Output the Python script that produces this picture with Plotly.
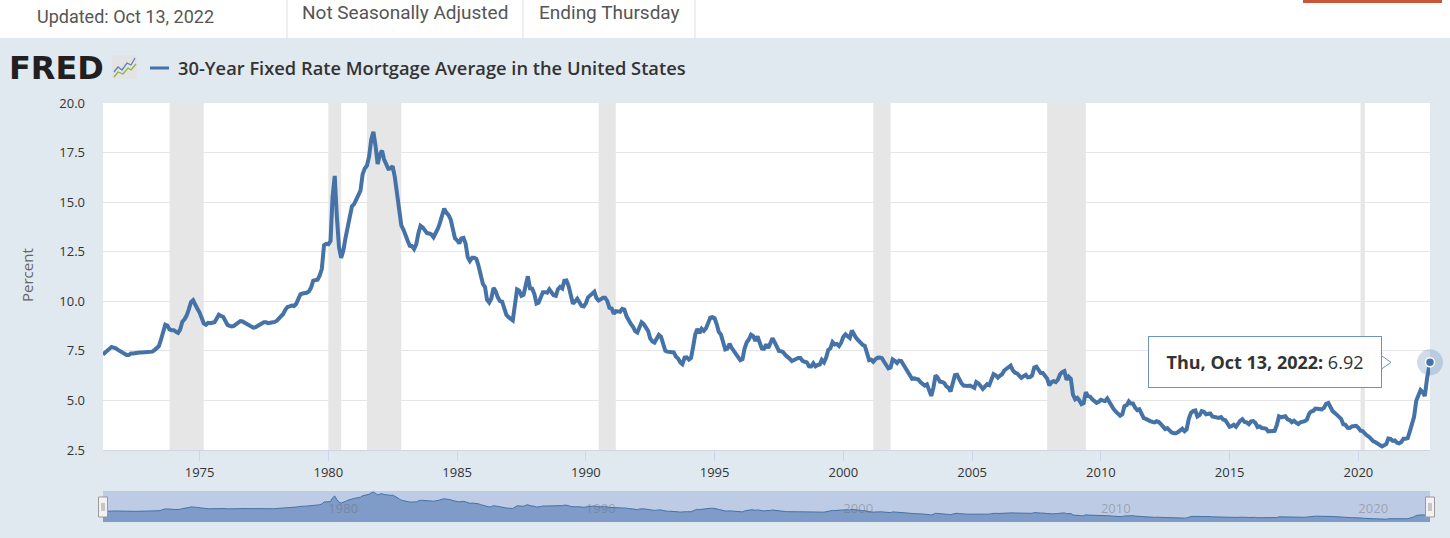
import pandas as pd
import plotly.graph_objects as go

# 30-year fixed mortgage rate, monthly readings (percent), Apr 1971 .. Oct 2022
rates_1970s = [
    7.31, 7.43, 7.53, 7.60, 7.70, 7.69, 7.63, 7.55, 7.48,
    7.44, 7.32, 7.29, 7.29, 7.37, 7.37, 7.40, 7.40, 7.42, 7.42, 7.43, 7.44,
    7.44, 7.44, 7.46, 7.54, 7.65, 7.73, 8.05, 8.50, 8.82, 8.77, 8.58, 8.54,
    8.54, 8.46, 8.41, 8.58, 8.97, 9.09, 9.28, 9.59, 9.96, 10.05, 9.79, 9.62,
    9.43, 9.10, 8.89, 8.82, 8.91, 8.89, 8.89, 8.94, 9.13, 9.32, 9.26, 9.22,
    9.02, 8.81, 8.76, 8.73, 8.76, 8.85, 8.93, 9.00, 8.98, 8.92, 8.81, 8.79,
    8.72, 8.67, 8.69, 8.75, 8.83, 8.86, 8.94, 8.94, 8.90, 8.92, 8.92, 8.96,
    9.02, 9.15, 9.20, 9.36, 9.57, 9.71, 9.74, 9.78, 9.76, 9.86, 10.11, 10.35,
    10.39, 10.41, 10.43, 10.50, 10.69, 11.04, 11.09, 11.09, 11.30, 11.64, 12.83, 12.90,
]
rates_1980s = [
    12.88, 13.04, 15.28, 16.32, 14.26, 12.71, 12.19, 12.56, 13.20, 13.79, 14.21, 14.79,
    14.90, 15.13, 15.40, 15.58, 16.40, 16.70, 16.83, 17.29, 18.16, 18.55, 17.83, 16.92,
    17.40, 17.60, 17.16, 16.89, 16.68, 16.70, 16.82, 16.27, 15.43, 14.61, 13.83, 13.62,
    13.25, 13.04, 12.80, 12.78, 12.63, 12.87, 13.42, 13.81, 13.73, 13.54, 13.44, 13.42,
    13.37, 13.23, 13.39, 13.65, 13.94, 14.42, 14.67, 14.47, 14.35, 14.13, 13.64, 13.18,
    13.08, 12.92, 13.17, 13.20, 12.91, 12.22, 12.03, 12.19, 12.19, 12.14, 11.78, 11.26,
    10.88, 10.71, 10.08, 9.94, 10.14, 10.68, 10.51, 10.20, 10.01, 9.98, 9.70, 9.31,
    9.20, 9.08, 9.04, 9.83, 10.60, 10.54, 10.28, 10.33, 10.89, 11.26, 10.65, 10.64,
    10.38, 9.89, 9.93, 10.20, 10.46, 10.46, 10.43, 10.60, 10.48, 10.30, 10.27, 10.61,
    10.73, 10.65, 11.03, 11.05, 10.77, 10.20, 9.88, 9.99, 10.13, 9.95, 9.77, 9.74,
]
rates_1990s = [
    9.90, 10.20, 10.27, 10.37, 10.48, 10.16, 10.04, 10.10, 10.18, 10.18, 10.01, 9.67,
    9.64, 9.37, 9.50, 9.49, 9.47, 9.62, 9.58, 9.24, 9.01, 8.86, 8.71, 8.50,
    8.43, 8.76, 8.94, 8.85, 8.67, 8.51, 8.13, 7.98, 7.92, 8.09, 8.31, 8.22,
    7.92, 7.50, 7.46, 7.46, 7.47, 7.42, 7.21, 7.11, 6.92, 6.83, 7.16, 7.17,
    7.06, 7.15, 7.68, 8.32, 8.60, 8.40, 8.61, 8.51, 8.64, 8.93, 9.17, 9.20,
    9.15, 8.83, 8.46, 8.32, 7.96, 7.57, 7.61, 7.86, 7.64, 7.48, 7.38, 7.20,
    7.03, 7.08, 7.62, 7.93, 8.07, 8.32, 8.25, 8.00, 8.23, 7.92, 7.62, 7.60,
    7.82, 7.65, 7.90, 8.14, 7.94, 7.69, 7.50, 7.48, 7.43, 7.29, 7.21, 7.10,
    6.99, 7.04, 7.13, 7.14, 7.14, 7.00, 6.95, 6.92, 6.72, 6.71, 6.87, 6.72,
    6.79, 6.81, 7.04, 6.92, 7.15, 7.55, 7.63, 7.94, 7.82, 7.85, 7.74, 7.91,
]
rates_2000s = [
    8.21, 8.33, 8.24, 8.15, 8.52, 8.29, 8.15, 8.03, 7.91, 7.80, 7.75, 7.38,
    7.03, 7.05, 6.95, 7.08, 7.15, 7.16, 7.13, 6.95, 6.82, 6.62, 6.66, 7.07,
    7.00, 6.89, 7.01, 6.99, 6.81, 6.65, 6.49, 6.29, 6.09, 6.11, 6.07, 6.05,
    5.92, 5.84, 5.75, 5.81, 5.48, 5.23, 5.63, 6.26, 6.15, 5.95, 5.93, 5.88,
    5.71, 5.64, 5.45, 5.83, 6.27, 6.29, 6.06, 5.87, 5.75, 5.72, 5.73, 5.75,
    5.71, 5.63, 5.93, 5.86, 5.72, 5.58, 5.70, 5.82, 5.77, 6.07, 6.33, 6.27,
    6.15, 6.25, 6.32, 6.51, 6.60, 6.68, 6.76, 6.52, 6.40, 6.36, 6.24, 6.14,
    6.22, 6.29, 6.16, 6.18, 6.26, 6.66, 6.70, 6.57, 6.38, 6.38, 6.21, 6.10,
    5.76, 5.92, 5.97, 5.92, 6.04, 6.32, 6.43, 6.48, 6.04, 6.20, 6.09, 5.29,
    5.06, 5.13, 5.00, 4.81, 4.86, 5.42, 5.22, 5.19, 5.06, 4.95, 4.88, 4.93,
]
rates_2010s = [
    5.03, 4.99, 4.97, 5.10, 4.89, 4.74, 4.56, 4.43, 4.35, 4.23, 4.30, 4.71,
    4.76, 4.95, 4.84, 4.84, 4.64, 4.51, 4.55, 4.27, 4.11, 4.07, 3.99, 3.96,
    3.92, 3.89, 3.95, 3.91, 3.80, 3.68, 3.55, 3.60, 3.50, 3.38, 3.35, 3.35,
    3.41, 3.53, 3.57, 3.45, 3.54, 4.07, 4.37, 4.46, 4.49, 4.19, 4.26, 4.46,
    4.43, 4.30, 4.34, 4.34, 4.19, 4.16, 4.13, 4.12, 4.16, 4.04, 4.00, 3.86,
    3.67, 3.71, 3.77, 3.67, 3.84, 3.98, 4.05, 3.91, 3.89, 3.80, 3.94, 3.96,
    3.87, 3.66, 3.69, 3.61, 3.60, 3.57, 3.44, 3.44, 3.46, 3.47, 3.77, 4.20,
    4.15, 4.17, 4.20, 4.05, 4.01, 3.90, 3.97, 3.88, 3.81, 3.90, 3.92, 3.95,
    4.03, 4.33, 4.44, 4.47, 4.59, 4.57, 4.53, 4.55, 4.63, 4.83, 4.87, 4.64,
    4.46, 4.37, 4.27, 4.14, 4.07, 3.80, 3.77, 3.62, 3.61, 3.69, 3.70, 3.72,
]
rates_2020s = [
    3.62, 3.47, 3.45, 3.31, 3.23, 3.16, 3.02, 2.94, 2.89, 2.83, 2.77, 2.68,
    2.74, 2.81, 3.08, 3.06, 2.96, 2.98, 2.87, 2.84, 2.90, 3.07, 3.07, 3.10,
    3.45, 3.76, 4.17, 4.98, 5.23, 5.52, 5.41, 5.22, 6.11, 6.70,
]
first_month = "1971-04-01"
last_date = "2022-10-13"
last_value = 6.92

# NBER recessions (shaded)
rec_start = ["1973-11-01", "1980-01-01", "1981-07-01", "1990-07-01", "2001-03-01", "2007-12-01", "2020-02-01"]
rec_end = ["1975-03-01", "1980-07-01", "1982-11-01", "1991-03-01", "2001-11-01", "2009-06-01", "2020-04-01"]

y_ticks = [2.5, 5.0, 7.5, 10.0, 12.5, 15.0, 17.5, 20.0]

rates = rates_1970s + rates_1980s + rates_1990s + rates_2000s + rates_2010s + rates_2020s
dates = list(pd.date_range(first_month, periods=len(rates), freq="MS")) + [pd.Timestamp(last_date)]
rates = rates + [last_value]

W, H = 1450, 538
ML, MR, MT, MB = 103, 20, 103, 16
BLUE = "#4572a7"


def px(x):
    return (x - ML) / (W - ML - MR)


def py(y):
    return (H - MB - y) / (H - MT - MB)


fig = go.Figure()

fig.add_trace(go.Scatter(x=dates, y=rates, mode="lines",
                         line=dict(color=BLUE, width=4), xaxis="x", yaxis="y"))
# last point + halo
fig.add_trace(go.Scatter(x=[dates[-1]], y=[rates[-1]], mode="markers",
                         marker=dict(size=26, color="rgba(69,114,167,0.25)"), cliponaxis=False))
fig.add_trace(go.Scatter(x=[dates[-1]], y=[rates[-1]], mode="markers",
                         marker=dict(size=9, color=BLUE, line=dict(color="white", width=1.5)),
                         cliponaxis=False))
# navigator
fig.add_trace(go.Scatter(x=dates, y=rates, mode="lines", fill="tozeroy",
                         fillcolor="#7f9bc8", line=dict(color=BLUE, width=1),
                         xaxis="x2", yaxis="y2"))

shapes = []
for s, e in zip(rec_start, rec_end):
    shapes.append(dict(type="rect", xref="x", yref="y domain", x0=s, x1=e, y0=0, y1=1,
                       fillcolor="#e6e6e6", line=dict(width=0), layer="below"))

# navigator background
shapes.append(dict(type="rect", xref="x2 domain", yref="y2 domain", x0=0, x1=1, y0=0, y1=1,
                   fillcolor="#bdcbe4", line=dict(width=0), layer="below"))
# navigator handles
for hx in (103, 1430):
    shapes.append(dict(type="rect", xref="paper", yref="paper",
                       x0=px(hx - 4.5), x1=px(hx + 4.5), y0=py(517), y1=py(497),
                       fillcolor="#f2f2f2", line=dict(color="#999999", width=1)))
    for dx in (-1, 1):
        shapes.append(dict(type="line", xref="paper", yref="paper",
                           x0=px(hx + dx), x1=px(hx + dx), y0=py(511), y1=py(503),
                           line=dict(color="#999999", width=1)))

# top white strip with header boxes
shapes.append(dict(type="rect", xref="paper", yref="paper", x0=px(0), x1=px(W), y0=py(38), y1=py(0),
                   fillcolor="white", line=dict(width=0)))
for sx in (287, 523, 695):
    shapes.append(dict(type="line", xref="paper", yref="paper", x0=px(sx), x1=px(sx), y0=py(38), y1=py(0),
                       line=dict(color="#dddddd", width=1)))
shapes.append(dict(type="rect", xref="paper", yref="paper", x0=px(1303), x1=px(1442), y0=py(3), y1=py(-6),
                   fillcolor="#c9553b", line=dict(width=0)))

# FRED graph icon
shapes.append(dict(type="rect", xref="paper", yref="paper", x0=px(112), x1=px(137), y0=py(79), y1=py(55),
                   fillcolor="#e3e3e3", line=dict(width=0)))


def path(points):
    return "M " + " L ".join(f"{px(a)},{py(b)}" for a, b in points)


shapes.append(dict(type="path", xref="paper", yref="paper",
                   path=path([(114, 72), (118, 67), (122, 70), (127, 63), (131, 65), (135, 58)]),
                   line=dict(color="#5b82b5", width=1.3)))
shapes.append(dict(type="path", xref="paper", yref="paper",
                   path=path([(114, 77), (118, 72), (123, 74), (128, 68), (131, 70), (136, 64)]),
                   line=dict(color="#8db545", width=1.3)))
# legend dash
shapes.append(dict(type="line", xref="paper", yref="paper", x0=px(150), x1=px(169), y0=py(68), y1=py(68),
                   line=dict(color=BLUE, width=3)))
# tooltip pointer
shapes.append(dict(type="path", xref="x", yref="y", xsizemode="pixel", ysizemode="pixel",
                   xanchor=dates[-1], yanchor=rates[-1],
                   path="M -49,7 L -39,0 L -49,-7 Z",
                   fillcolor="white", line=dict(color="#7090bd", width=1)))

annotations = [
    dict(text="Updated: Oct 13, 2022", x=px(35), y=py(16), xref="paper", yref="paper",
         xanchor="left", yanchor="middle", showarrow=False,
         font=dict(family="Roboto", size=18, color="#555555")),
    dict(text="Not Seasonally Adjusted", x=px(300), y=py(12), xref="paper", yref="paper",
         xanchor="left", yanchor="middle", showarrow=False,
         font=dict(family="Roboto", size=19, color="#555555")),
    dict(text="Ending Thursday", x=px(537), y=py(12), xref="paper", yref="paper",
         xanchor="left", yanchor="middle", showarrow=False,
         font=dict(family="Roboto", size=19, color="#555555")),
    dict(text="<b>FRED</b>", x=px(7), y=py(68), xref="paper", yref="paper",
         xanchor="left", yanchor="middle", showarrow=False,
         font=dict(family="DejaVu Sans", size=32, color="#231f20")),
    dict(text="30-Year Fixed Rate Mortgage Average in the United States", x=px(176), y=py(68),
         xref="paper", yref="paper", xanchor="left", yanchor="middle", showarrow=False,
         font=dict(family="Open Sans", size=18.3, color="#333333", weight=600)),
    dict(text="Percent", x=px(27), y=py(275), xref="paper", yref="paper", textangle=-90,
         xanchor="center", yanchor="middle", showarrow=False,
         font=dict(family="Open Sans", size=15, color="#666666")),
    dict(text="<b>Thu, Oct 13, 2022:</b> 6.92", x=dates[-1], y=rates[-1], xref="x", yref="y",
         xanchor="center", yanchor="middle", xshift=-165, showarrow=False,
         width=212, height=30, borderpad=10, bordercolor="#7090bd", borderwidth=1,
         bgcolor="rgba(255,255,255,0.95)",
         font=dict(family="Open Sans", size=18, color="#333333")),
]

main_bottom = (H - MB - 450) / (H - MT - MB)
nav_top = (H - MB - 491) / (H - MT - MB)

fig.update_layout(
    width=W, height=H,
    margin=dict(l=ML, r=MR, t=MT, b=MB, autoexpand=False),
    paper_bgcolor="#e1e9f0",
    plot_bgcolor="white",
    showlegend=False,
    hovermode=False,
    font=dict(family="Open Sans", color="#333333"),
    xaxis=dict(range=[pd.Timestamp("1971-04-02"), pd.Timestamp(last_date)],
               domain=[0, 1], anchor="y", type="date", automargin=False,
               tick0="1975-01-01", dtick="M60", tickformat="%Y",
               ticks="outside", ticklen=10, tickcolor="#ccd6eb", tickwidth=1,
               showline=True, linecolor="#ccd6eb", linewidth=1,
               showgrid=False, zeroline=False,
               tickfont=dict(family="Open Sans", size=13, color="#333333")),
    yaxis=dict(range=[2.5, 20], domain=[main_bottom, 1], anchor="x", automargin=False,
               tickvals=y_ticks, tickformat=".1f", ticks="", ticklabelstandoff=17,
               showgrid=True, gridcolor="#e6e6e6", gridwidth=1,
               showline=False, zeroline=False,
               tickfont=dict(family="Open Sans", size=13, color="#333333")),
    xaxis2=dict(range=[pd.Timestamp("1971-04-02"), pd.Timestamp(last_date)],
                domain=[0, 1], anchor="y2", type="date", automargin=False,
                tick0="1980-01-01", dtick="M120", tickformat="%Y",
                ticks="", ticklabelposition="inside right",
                showline=False, showgrid=False, zeroline=False,
                tickfont=dict(family="Open Sans", size=13, color="rgba(110,110,110,0.45)")),
    yaxis2=dict(range=[1.2, 19.2], domain=[0, nav_top], anchor="x2", visible=False, automargin=False),
    shapes=shapes,
    annotations=annotations,
)

fig.write_html("out.html", config={"displayModeBar": False},
               post_script="document.body.style.margin='0';document.body.style.overflow='hidden';")
